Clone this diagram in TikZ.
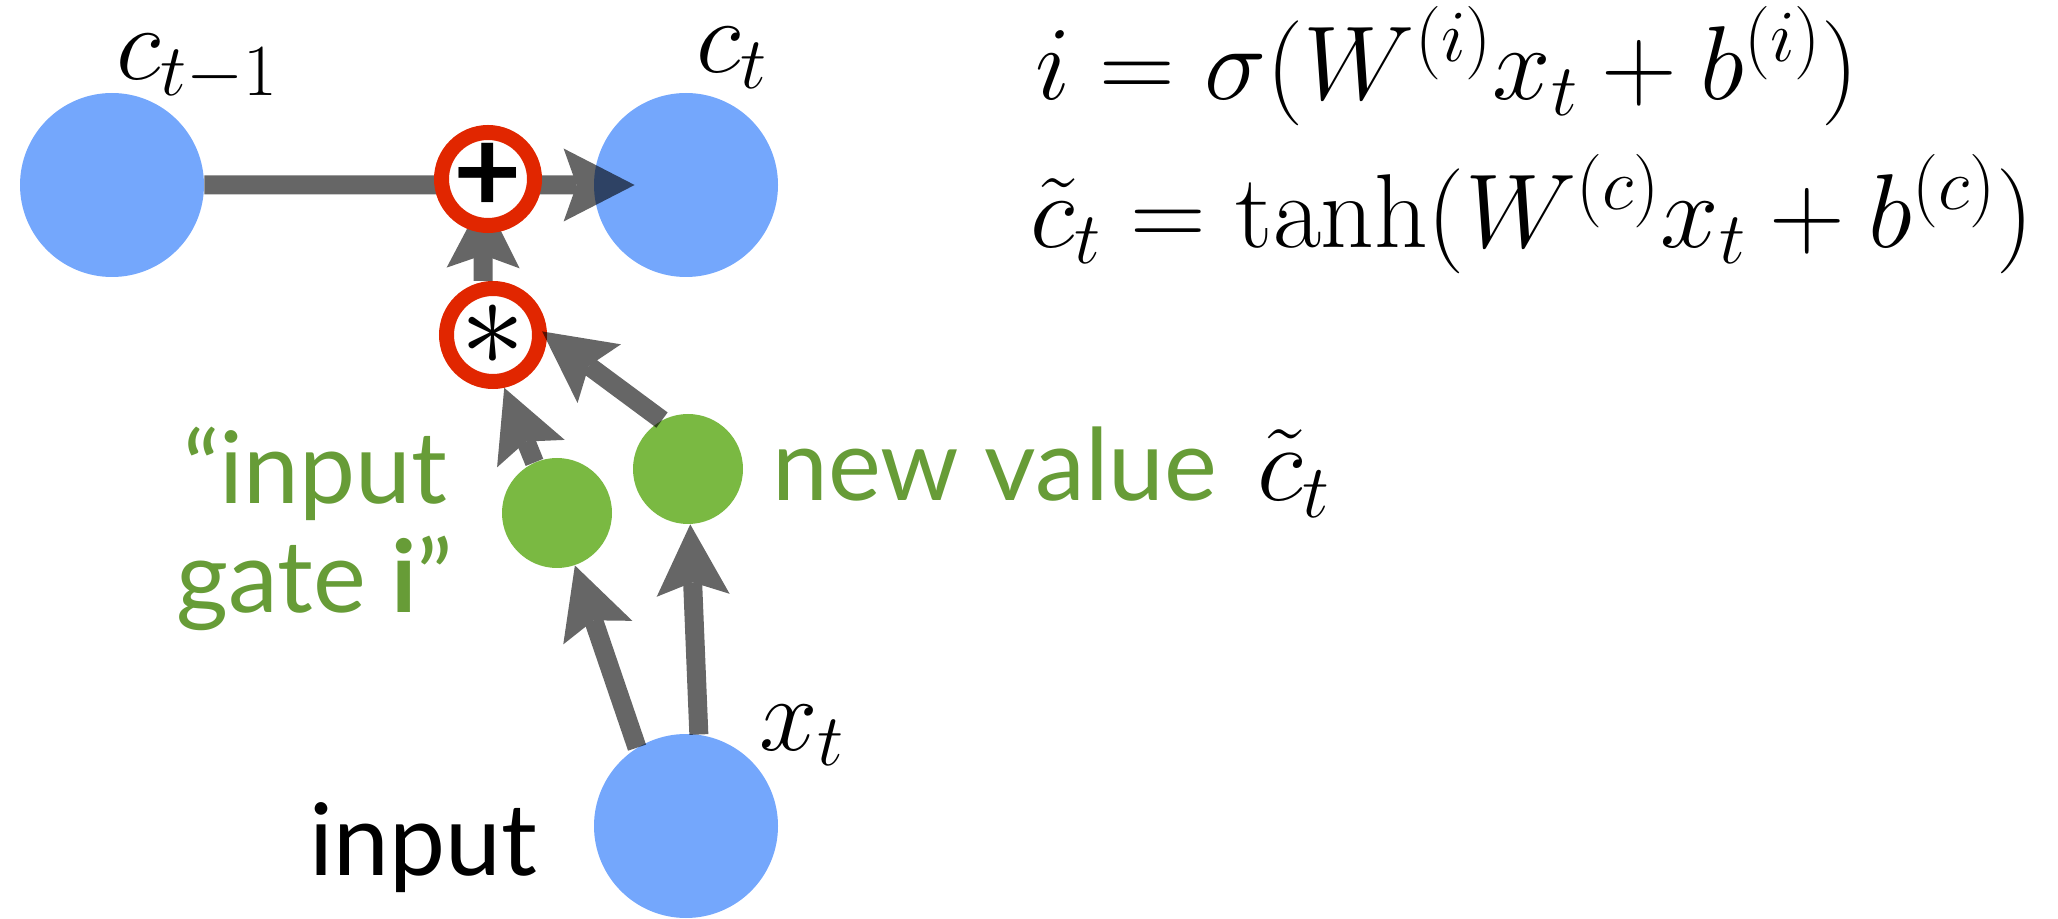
\RequirePackage{fix-cm}
\documentclass[tikz,border=0pt]{standalone}
\usepackage[no-math]{fontspec}
\setmainfont{Lato}
\usetikzlibrary{arrows.meta}
\definecolor{cellblue}{HTML}{74A7FC}
\definecolor{gategreen}{HTML}{7AB942}
\definecolor{txtgreen}{HTML}{679C37}
\definecolor{opred}{HTML}{E12600}
\pgfdeclarelayer{front}
\pgfsetlayers{main,front}
\begin{document}
\begin{tikzpicture}[x=0.5pt,y=-0.5pt,
  cell/.style={circle, fill=cellblue, minimum size=92pt, inner sep=0pt},
  gatec/.style={circle, fill=gategreen, minimum size=55pt, inner sep=0pt},
  opnode/.style={circle, draw=opred, line width=7.5pt, fill=white, minimum size=46.5pt, inner sep=0pt},
  opsym/.style={inner sep=0pt},
  mathlbl/.style={inner sep=0pt, font=\fontsize{52.5pt}{60pt}\selectfont},
  txt/.style={inner sep=0pt, font=\fontsize{50pt}{53pt}\selectfont},
  arr/.style={draw=black, line width=9.5pt, -{Stealth[length=35.5pt, width=36.5pt, inset=6.5pt, line width=0pt]}}
]
\useasboundingbox (0,0) rectangle (2058,919);
\node[cell] (cprev) at (112,185) {};
\node[cell] (ct) at (686,185) {};
\node[cell] (in) at (686,826) {};
\node[gatec] (ig) at (557,513) {};
\node[gatec] (nv) at (688,469) {};
\node[opnode] (star) at (493,335) {};
\node[opsym, font=\fontsize{65pt}{65pt}\selectfont] (starsym) at (493,335) {$\ast$};
\begin{pgfonlayer}{front}
\node[opnode] (plus) at (488,179) {};
\node[opsym, font=\fontsize{59pt}{59pt}\selectfont\bfseries] (plussym) at (488,178) {+};
\end{pgfonlayer}
\begin{scope}[transparency group, opacity=0.6]
\draw[arr, shorten >=-20.5pt] (cprev) -- (ct);
\draw[arr, shorten >=-18pt] ([xshift=-5pt]star.north) -- ([xshift=-2.25pt]plus.south);
\draw[arr] (ig.114) -- (star.282);
\draw[arr, shorten >=-3pt] (nv.118) -- (star.east);
\draw[arr] (in.122) -- (ig);
\draw[arr] (in.82) -- (nv);
\end{scope}
\node[mathlbl, anchor=base west] (lcprev) at (116,80) {$c_{t-1}$};
\node[mathlbl, anchor=base west] (lct) at (696,73) {$c_t$};
\node[mathlbl, anchor=base west] (lxt) at (759,750) {$x_t$};
\node[txt, anchor=base west] (lin) at (309,875) {input};
\node[txt, text=txtgreen, anchor=base] (lig) at (315,504) {\begin{tabular}[t]{@{}c@{}}“input\\gate \textbf{i}”\end{tabular}};
\node[txt, text=txtgreen, anchor=base west] (lnv) at (772,501) {new value\hspace{0.4em}\textcolor{black}{\fontsize{54pt}{60pt}\selectfont$\tilde{c}_t$}};
\node[mathlbl, anchor=base west] (eq1) at (1035,100) {$i=\sigma(W^{(i)}x_t+b^{(i)})$};
\node[mathlbl, anchor=base west] (eq2) at (1030,248) {$\tilde{c}_t=\tanh(W^{(c)}x_t+b^{(c)})$};
\end{tikzpicture}
\end{document}
